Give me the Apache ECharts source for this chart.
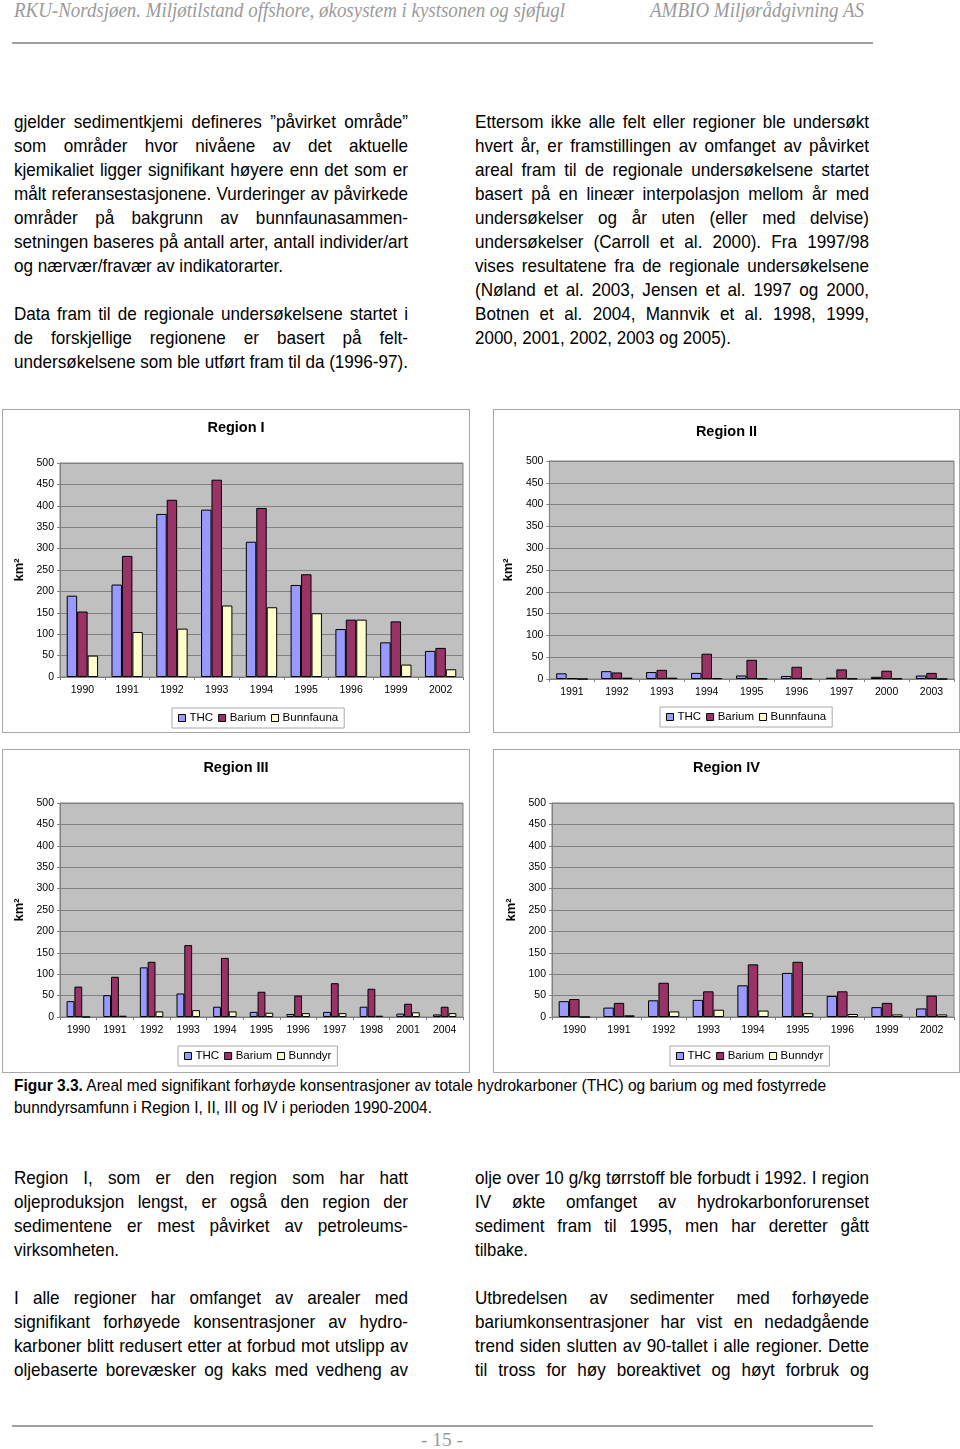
<!DOCTYPE html>
<html><head><meta charset="utf-8">
<script src="https://cdn.jsdelivr.net/npm/echarts@6/dist/echarts.min.js"></script>
<style>
html,body{margin:0;padding:0;background:#fff;}
#page{position:relative;width:960px;height:1449px;overflow:hidden;background:#fff;}
.ln{position:absolute;white-space:nowrap;transform-origin:0 50%;line-height:24px;height:24px;color:#000;}
.box{position:absolute;border:1px solid #a8a8a8;background:#fff;}
.rule{position:absolute;height:2px;background:#a0a0a0;}
</style>
</head><body><div id="page"></div>
<script>
// ---------------- DATA ----------------
const years1 = ['1990','1991','1992','1993','1994','1995','1996','1999','2002'];
const thc1 = [190,216,381,391,316,215,112,81,61];
const barium1 = [153,283,414,461,395,240,134,130,68];
const bunn1 = [50,105,113,167,163,149,134,29,18];

const years2 = ['1991','1992','1993','1994','1995','1996','1997','2000','2003'];
const thc2 = [13,18,16,14,8,7,3,5,8];
const barium2 = [2,15,21,58,44,28,22,19,14];
const bunn2 = [0,3,3,2,1,1,1,1,0];

const years3 = ['1990','1991','1992','1993','1994','1995','1996','1997','1998','2001','2004'];
const thc3 = [37,51,116,55,24,12,7,12,24,8,6];
const barium3 = [71,94,129,168,138,59,50,79,66,31,24];
const bunn3 = [0,3,13,16,13,10,9,9,3,11,9];

const years4 = ['1990','1991','1992','1993','1994','1995','1996','1999','2002'];
const thc4 = [37,22,39,40,74,103,49,23,20];
const barium4 = [42,33,80,60,123,129,60,33,50];
const bunn4 = [0,4,13,17,15,9,7,6,6];

const yMin = 0, yMax = 500, yStep = 50;
const seriesNames12 = ['THC','Barium','Bunnfauna'];
const seriesNames34 = ['THC','Barium','Bunndyr'];
const colors = ['#9999FF','#993366','#FFFFCC'];

// ---------------- TEXT ----------------
const page = document.getElementById('page');
const SANS = '"Liberation Sans", Arial, sans-serif';
const SERIF = '"Liberation Serif", "Times New Roman", serif';
const BODY = 17.8;

function mk(x, cy, text, opts) {
  const d = document.createElement('div');
  d.className = 'ln';
  d.style.left = x + 'px';
  d.style.top = (cy - 12) + 'px';
  d.style.fontFamily = opts.font || SANS;
  d.style.fontSize = (opts.size || BODY) + 'px';
  if (opts.italic) d.style.fontStyle = 'italic';
  if (opts.color) d.style.color = opts.color;
  if (opts.html) d.innerHTML = text; else d.textContent = text;
  page.appendChild(d);
  return d;
}
// reference horizontal scale of the body font, from a known unjustified line
const probe = mk(0, -100, 'og nærvær/fravær av indikatorarter.', {});
const S_REF = (283 - 14) / probe.getBoundingClientRect().width;
probe.remove();

function line(x, cy, text, end, just, opts) {
  opts = opts || {};
  const d = mk(x, cy, text, opts);
  const w0 = d.getBoundingClientRect().width;
  const target = end - x;
  let s;
  if (just) {
    const n = (text.match(/ /g) || []).length;
    s = S_REF;
    const extra = target / s - w0;
    if (extra < 0 || n === 0) {
      s = target / w0;
    } else {
      d.style.wordSpacing = (extra / n) + 'px';
    }
  } else {
    s = target / w0;
  }
  d.style.transform = 'scaleX(' + s + ')';
}
function para(x, y0, end, lines) {
  lines.forEach((l, i) => {
    if (l === null) return;
    const t = typeof l === 'string' ? l : l[0];
    const e = typeof l === 'string' ? end : l[1];
    const j = typeof l === 'string';
    line(x, y0 + i * 24, t, e, j);
  });
}

// header
line(14, 10, 'RKU-Nordsjøen. Miljøtilstand offshore, økosystem i kystsonen og sjøfugl', 565, false, {font:SERIF, italic:true, size:20, color:'#9a9a9a'});
line(650, 10, 'AMBIO Miljørådgivning AS', 864, false, {font:SERIF, italic:true, size:20, color:'#9a9a9a'});
const r1 = document.createElement('div'); r1.className='rule'; r1.style.left='12px'; r1.style.top='42px'; r1.style.width='861px'; page.appendChild(r1);

para(14, 122, 408, [
  'gjelder sedimentkjemi defineres ”påvirket område”',
  'som områder hvor nivåene av det aktuelle',
  'kjemikaliet ligger signifikant høyere enn det som er',
  'målt referansestasjonene. Vurderinger av påvirkede',
  'områder på bakgrunn av bunnfaunasammen-',
  'setningen baseres på antall arter, antall individer/art',
  ['og nærvær/fravær av indikatorarter.', 283],
  null,
  'Data fram til de regionale undersøkelsene startet i',
  'de forskjellige regionene er basert på felt-',
  'undersøkelsene som ble utført fram til da (1996-97).'
]);
para(475, 122, 869, [
  'Ettersom ikke alle felt eller regioner ble undersøkt',
  'hvert år, er framstillingen av omfanget av påvirket',
  'areal fram til de regionale undersøkelsene startet',
  'basert på en lineær interpolasjon mellom år med',
  'undersøkelser og år uten (eller med delvise)',
  'undersøkelser (Carroll et al. 2000). Fra 1997/98',
  'vises resultatene fra de regionale undersøkelsene',
  '(Nøland et al. 2003, Jensen et al. 1997 og 2000,',
  'Botnen et al. 2004, Mannvik et al. 1998, 1999,',
  ['2000, 2001, 2002, 2003 og 2005).', 731]
]);

line(14, 1086, '<b>Figur 3.3.</b> Areal med signifikant forhøyde konsentrasjoner av totale hydrokarboner (THC) og barium og med fostyrrede', 826, false, {html:true, size:17});
line(14, 1108, 'bunndyrsamfunn i Region I, II, III og IV i perioden 1990-2004.', 432, false, {size:17});

para(14, 1178, 408, [
  'Region I, som er den region som har hatt',
  'oljeproduksjon lengst, er også den region der',
  'sedimentene er mest påvirket av petroleums-',
  ['virksomheten.', 119],
  null,
  'I alle regioner har omfanget av arealer med',
  'signifikant forhøyede konsentrasjoner av hydro-',
  'karboner blitt redusert etter at forbud mot utslipp av',
  'oljebaserte borevæsker og kaks med vedheng av'
]);
para(475, 1178, 869, [
  'olje over 10 g/kg tørrstoff ble forbudt i 1992. I region',
  'IV økte omfanget av hydrokarbonforurenset',
  'sediment fram til 1995, men har deretter gått',
  ['tilbake.', 528],
  null,
  'Utbredelsen av sedimenter med forhøyede',
  'bariumkonsentrasjoner har vist en nedadgående',
  'trend siden slutten av 90-tallet i alle regioner. Dette',
  'til tross for høy boreaktivet og høyt forbruk og'
]);

const r2 = document.createElement('div'); r2.className='rule'; r2.style.left='12px'; r2.style.top='1425px'; r2.style.width='861px'; page.appendChild(r2);
line(421, 1440, '- 15 -', 463, false, {font:SERIF, size:19, color:'#9a9a9a'});

// ---------------- CHARTS ----------------
function makeChart(box, cfg) {
  const b = document.createElement('div');
  b.className = 'box';
  b.style.left = box[0] + 'px'; b.style.top = box[1] + 'px';
  b.style.width = box[2] + 'px'; b.style.height = box[3] + 'px';
  page.appendChild(b);
  const c = document.createElement('div');
  c.style.width = box[2] + 'px'; c.style.height = box[3] + 'px';
  b.appendChild(c);
  const chart = echarts.init(c, null, {renderer:'canvas'});
  const names = cfg.names;
  const vals = cfg.values;
  chart.setOption({
    animation: false,
    textStyle: {fontFamily: SANS},
    title: {
      text: cfg.title, left: 'center', top: cfg.titleTop,
      textStyle: {fontFamily: SANS, fontWeight: 'bold', fontSize: 14.5, color: '#000'}
    },
    legend: {
      data: names, left: cfg.legLeft, top: cfg.legTop, orient: 'horizontal',
      icon: 'rect', itemWidth: 7, itemHeight: 7, itemGap: 5,
      padding: [4, 6, 4, 6],
      backgroundColor: '#fff', borderColor: '#a8a8a8', borderWidth: 1,
      itemStyle: {borderColor: '#000', borderWidth: 1},
      textStyle: {fontFamily: SANS, fontSize: 11.5, color: '#000', padding: [0, 0, 0, -1]},
      selectedMode: false
    },
    grid: {
      left: cfg.grid[0], right: cfg.grid[1], top: cfg.grid[2], bottom: cfg.grid[3],
      show: true, backgroundColor: '#C0C0C0', borderColor: '#808080', borderWidth: 1,
      containLabel: false
    },
    xAxis: {
      type: 'category', data: cfg.years,
      axisLine: {show: true, lineStyle: {color: '#808080', width: 1}},
      axisTick: {show: true, length: 3, lineStyle: {color: '#808080'}},
      axisLabel: {fontFamily: SANS, fontSize: 10.5, color: '#000', margin: 8}
    },
    yAxis: {
      type: 'value', min: yMin, max: yMax, interval: yStep,
      name: 'km²', nameLocation: 'middle', nameRotate: 90, nameGap: cfg.nameGap,
      nameTextStyle: {fontFamily: SANS, fontWeight: 'bold', fontSize: 13, color: '#000'},
      axisLine: {show: true, lineStyle: {color: '#808080'}},
      axisTick: {show: true, length: 3, lineStyle: {color: '#808080'}},
      splitLine: {show: true, lineStyle: {color: '#808080', width: 1}},
      axisLabel: {fontFamily: SANS, fontSize: 10.5, color: '#000', margin: 6}
    },
    series: names.map((n, i) => ({
      name: n, type: 'bar', data: vals[i],
      barGap: '0%', barCategoryGap: cfg.catGap,
      itemStyle: {color: colors[i], borderColor: '#000', borderWidth: 1}
    }))
  });
}

makeChart([2, 409, 466, 322], {title:'Region I', titleTop:5, years:years1, names:seriesNames12,
  values:[thc1, barium1, bunn1], grid:[57,6,53,55], legLeft:169, legTop:298, nameGap:31, catGap:'30%'});
makeChart([493, 409, 465, 322], {title:'Region II', titleTop:9, years:years2, names:seriesNames12,
  values:[thc2, barium2, bunn2], grid:[50,5,51,53], legLeft:166, legTop:297, nameGap:30, catGap:'30%'});
makeChart([2, 749, 466, 322], {title:'Region III', titleTop:5, years:years3, names:seriesNames34,
  values:[thc3, barium3, bunn3], grid:[57,6,53,55], legLeft:175, legTop:296, nameGap:31, catGap:'36%'});
makeChart([493, 749, 465, 322], {title:'Region IV', titleTop:5, years:years4, names:seriesNames34,
  values:[thc4, barium4, bunn4], grid:[58,5,53,55], legLeft:176, legTop:296, nameGap:31, catGap:'30%'});
</script>
</body></html>
